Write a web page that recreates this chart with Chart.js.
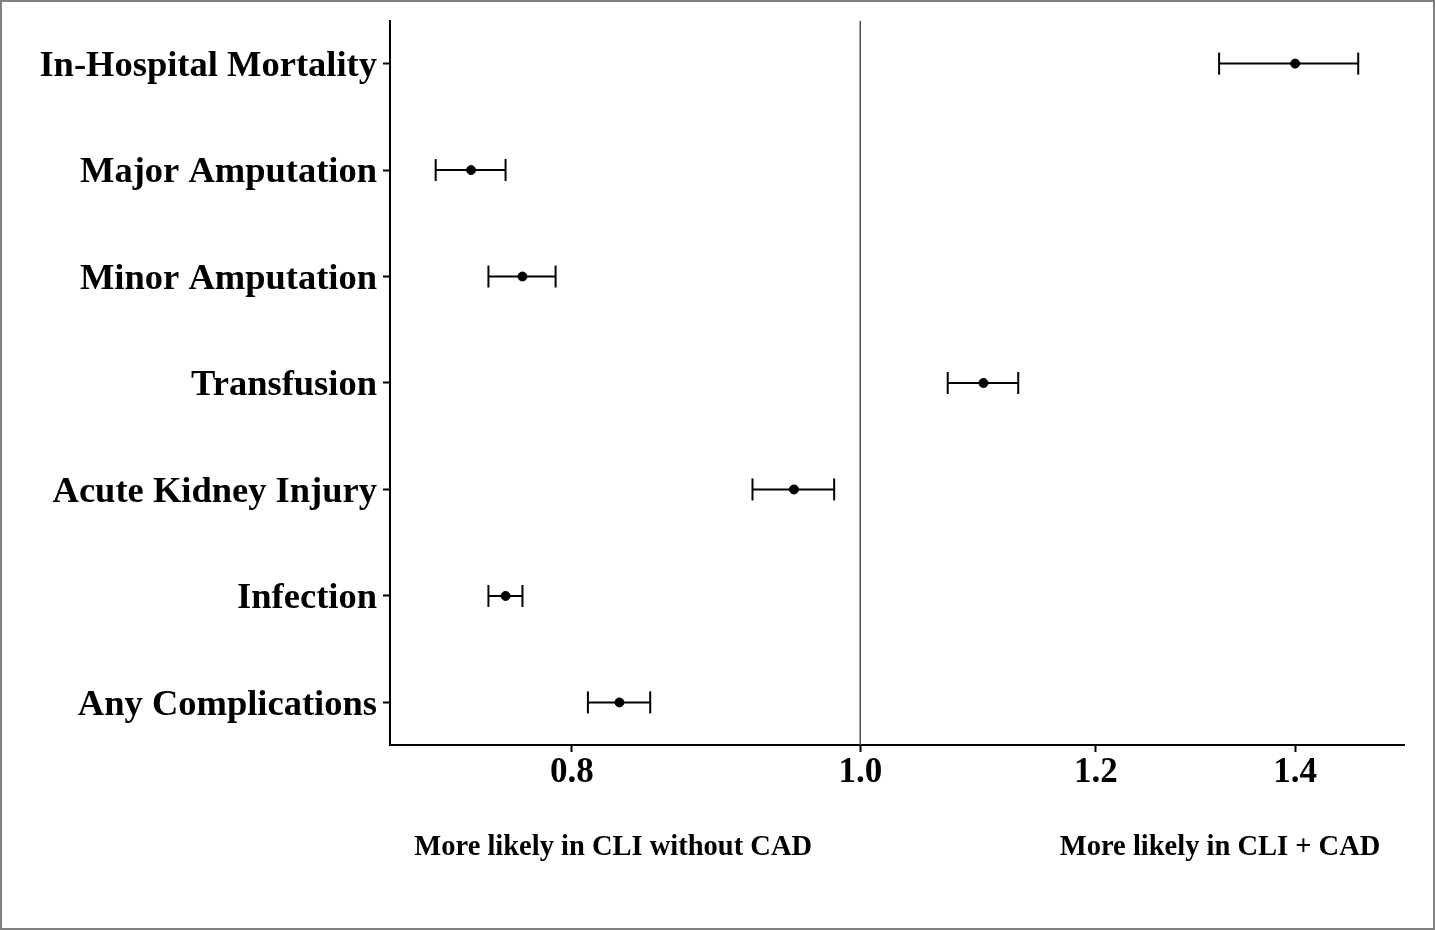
<!DOCTYPE html>
<html>
<head>
<meta charset="utf-8">
<script src="https://cdn.jsdelivr.net/npm/chart.js@4.4.0/dist/chart.umd.min.js"></script>
<style>
  body { margin: 0; background: #fff; }
  #wrap { width: 1435px; height: 930px; position: relative; }
</style>
</head>
<body>
<div id="wrap"><canvas id="forest"></canvas></div>
<script>
// outcomes, top to bottom
const outcomes = ['In-Hospital Mortality', 'Major Amputation', 'Minor Amputation',
  'Transfusion', 'Acute Kidney Injury', 'Infection', 'Any Complications'];
// odds ratios with 95% CI
const oddsRatio = [1.40, 0.74, 0.77, 1.10, 0.95, 0.76, 0.83];
const ciLower   = [1.32, 0.72, 0.75, 1.07, 0.92, 0.75, 0.81];
const ciUpper   = [1.47, 0.76, 0.79, 1.13, 0.98, 0.77, 0.85];
const xTicks = [0.8, 1.0, 1.2, 1.4];

const serif = '"Liberation Serif", "Times New Roman", serif';
Chart.defaults.color = '#000';

// one line dataset per CI, caps drawn as rotated 'line' points
const ciSets = outcomes.map((name, i) => ({
  type: 'line',
  label: name + ' CI',
  data: [{ x: ciLower[i], y: i }, { x: ciUpper[i], y: i }],
  borderColor: '#000',
  borderWidth: 2,
  pointStyle: 'line',
  rotation: 90,
  pointRadius: 11,
  pointBorderWidth: 2,
  pointBorderColor: '#000',
  showLine: true
}));

const refLine = {
  type: 'line',
  label: 'ref',
  data: [{ x: 1, y: -0.4 }, { x: 1, y: 6.4 }],
  borderColor: '#4d4d4d',
  borderWidth: 1.5,
  pointRadius: 0,
  showLine: true
};

const frameAndNotes = {
  id: 'frameAndNotes',
  afterDraw(chart) {
    const ctx = chart.ctx;
    const xs = chart.scales.x;
    ctx.save();
    ctx.fillStyle = '#000';
    ctx.font = 'bold 28.5px ' + serif;
    ctx.textAlign = 'center';
    ctx.textBaseline = 'middle';
    ctx.fillText('More likely in CLI without CAD', xs.getPixelForValue(0.826), 848);
    ctx.fillText('More likely in CLI + CAD', xs.getPixelForValue(1.321), 848);
    ctx.strokeStyle = '#808080';
    ctx.lineWidth = 2;
    ctx.strokeRect(1, 1, chart.width - 2, chart.height - 2);
    ctx.restore();
  }
};

new Chart(document.getElementById('forest'), {
  type: 'scatter',
  data: {
    datasets: [refLine, ...ciSets, {
      label: 'OR',
      data: oddsRatio.map((v, i) => ({ x: v, y: i })),
      backgroundColor: '#000',
      borderColor: '#000',
      pointRadius: 4.5
    }]
  },
  options: {
    responsive: true,
    maintainAspectRatio: false,
    animation: false,
    layout: { padding: { top: 21, right: 31, left: 0, bottom: 0 } },
    plugins: { legend: { display: false }, tooltip: { enabled: false } },
    scales: {
      x: {
        type: 'logarithmic',
        min: 0.695,
        max: 1.523,
        afterBuildTicks: s => { s.ticks = xTicks.map(v => ({ value: v })); },
        afterFit: s => { s.height = 185; s.paddingLeft = 0; s.paddingRight = 0; },
        grid: { drawOnChartArea: false, tickLength: 7, tickWidth: 2, tickColor: '#000' },
        border: { display: true, color: '#000', width: 2 },
        ticks: {
          padding: 0,
          font: { family: serif, size: 35, weight: 'bold' },
          callback: v => Number(v).toFixed(1)
        }
      },
      y: {
        type: 'linear',
        min: -0.4,
        max: 6.4,
        reverse: true,
        afterBuildTicks: s => { s.ticks = outcomes.map((c, i) => ({ value: i })); },
        afterFit: s => { s.width = 390; s.paddingTop = 0; s.paddingBottom = 0; },
        grid: { drawOnChartArea: false, tickLength: 7, tickWidth: 2, tickColor: '#000' },
        border: { display: true, color: '#000', width: 2 },
        ticks: {
          padding: 6,
          labelOffset: 3,
          font: { family: serif, size: 36.5, weight: 'bold' },
          callback: v => outcomes[v]
        }
      }
    }
  },
  plugins: [frameAndNotes]
});
</script>
</body>
</html>
